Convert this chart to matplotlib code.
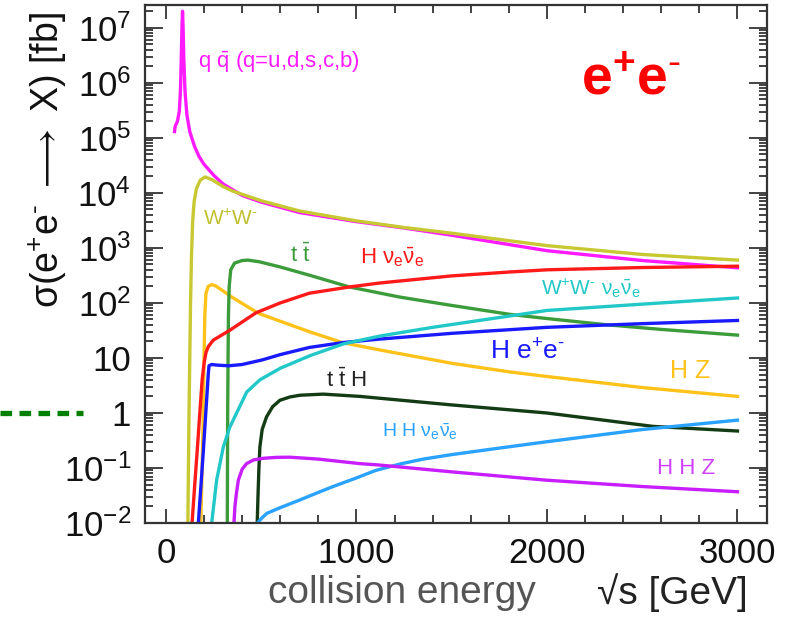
import numpy as np
import matplotlib
matplotlib.use('Agg')
import matplotlib.pyplot as plt
from matplotlib.ticker import MultipleLocator, LogLocator, NullFormatter

plt.rcParams['font.family'] = ['Liberation Sans', 'DejaVu Sans']
plt.rcParams['mathtext.fontset'] = 'custom'
plt.rcParams['mathtext.rm'] = 'Liberation Sans'
plt.rcParams['mathtext.it'] = 'Liberation Sans:italic'
plt.rcParams['mathtext.bf'] = 'Liberation Sans:bold'

# cross sections, sqrt(s) in GeV, sigma in fb
qq_E = [45, 48, 60, 70, 76, 80, 84, 87, 90, 94, 100, 110, 125, 150, 175, 200, 250, 300, 400, 500,
        700, 1000, 1250, 1500, 2000, 2500, 3000]
qq_s = [1.3e5, 1.6e5, 2e5, 3e5, 7e5, 2.5e6, 1e7, 2.0e7, 1e7, 2.5e6, 7e5, 2.6e5, 1.3e5, 7e4,
        4.5e4, 3.3e4, 2.1e4, 1.45e4, 9e3, 6.8e3, 4.4e3, 3.0e3, 2.3e3, 1.7e3, 890, 590, 435]

ww_E = [115, 118, 121, 125, 129, 134, 140, 148, 160, 180, 205, 240, 300, 350, 500, 700, 1000,
        1250, 1500, 2000, 2500, 3000]
ww_s = [0.01, 0.1, 1, 10, 100, 700, 3000, 7000, 1.2e4, 1.7e4, 1.95e4, 1.75e4, 1.3e4, 1.08e4,
        7.2e3, 4.7e3, 3.1e3, 2.35e3, 1.85e3, 1.1e3, 760, 600]

hz_E = [183, 190, 196, 200, 204, 210, 222, 240, 260, 300, 350, 472, 500, 752, 927, 1121, 1500,
        1800, 2000, 2500, 3000]
hz_s = [0.01, 0.1, 1, 10, 60, 150, 200, 215, 205, 165, 125, 69, 62, 30, 19, 14, 8, 5.6, 4.6, 2.9, 2.0]

tt_E = [322, 324, 326, 328, 332, 340, 360, 400, 430, 490, 600, 752, 963, 1226, 1500, 1805, 2000,
        2316, 2600, 3000]
tt_s = [0.01, 1, 10, 60, 200, 400, 530, 590, 600, 560, 450, 320, 195, 128, 90, 62, 52, 40, 33, 26]

hnn_E = [137, 150, 165, 180, 190, 200, 210, 222, 248, 336, 472, 600, 752, 963, 1121, 1500, 1805,
         2000, 2500, 3000]
hnn_s = [0.01, 0.044, 0.23, 1.3, 4, 8, 12.5, 16, 21, 32, 66, 100, 150, 195, 230, 310, 365, 400,
         440, 465]

hee_E = [170, 183, 196, 209, 218, 222, 226, 240, 270, 330, 400, 505, 600, 752, 927, 1121, 1500,
         2000, 2500, 3000]
hee_s = [0.01, 0.044, 0.2, 1.0, 3, 5, 7.2, 7.6, 7.4, 7.2, 7.6, 9.2, 11.5, 15.5, 19, 22, 28, 36,
         42, 48]

wwnn_E = [240, 266, 301, 335, 371, 424, 493, 600, 756, 931, 1123, 1400, 1806, 2000, 2500, 3000]
wwnn_s = [0.01, 0.06, 0.24, 0.55, 1.0, 2.4, 4.0, 6.5, 11, 18, 25, 36, 58, 73, 95, 123]

tth_E = [479, 483, 488, 493, 505, 528, 560, 598, 650, 703, 826, 1018, 1123, 1500, 1998, 2557, 3000]
tth_s = [0.01, 0.03, 0.1, 0.24, 0.5, 0.85, 1.3, 1.7, 1.95, 2.1, 2.2, 2.0, 1.85, 1.4, 1.0, 0.57, 0.47]

hhnn_E = [480, 505, 530, 600, 700, 800, 877, 1000, 1100, 1228, 1350, 1500, 1750, 2000, 2500, 3000]
hhnn_s = [0.01, 0.0125, 0.015, 0.019, 0.026, 0.036, 0.046, 0.066, 0.09, 0.118, 0.145, 0.175,
          0.23, 0.3, 0.5, 0.74]

hhz_E = [357, 362, 370, 380, 400, 423, 460, 511, 580, 651, 800, 1018, 1123, 1500, 1998, 2500, 3000]
hhz_s = [0.01, 0.02, 0.035, 0.06, 0.095, 0.12, 0.14, 0.15, 0.156, 0.157, 0.145, 0.12, 0.113,
         0.085, 0.06, 0.046, 0.037]

x_ticks = [0, 1000, 2000, 3000]
x_tick_labels = ['0', '1000', '2000', '3000']
y_ticks = [1e-2, 1e-1, 1, 10, 1e2, 1e3, 1e4, 1e5, 1e6, 1e7]
y_tick_labels = [r'$\mathregular{10^{-2}}$', r'$\mathregular{10^{-1}}$', '1', '10',
                 r'$\mathregular{10^{2}}$', r'$\mathregular{10^{3}}$', r'$\mathregular{10^{4}}$',
                 r'$\mathregular{10^{5}}$', r'$\mathregular{10^{6}}$', r'$\mathregular{10^{7}}$']
ref_level = 1

curves = [
    (qq_E, qq_s, '#ff1aff'),
    (ww_E, ww_s, '#c8c832'),
    (hz_E, hz_s, '#ffc21a'),
    (tt_E, tt_s, '#3c9c3c'),
    (hnn_E, hnn_s, '#ff1a1a'),
    (hee_E, hee_s, '#1a1aff'),
    (wwnn_E, wwnn_s, '#22c8c8'),
    (tth_E, tth_s, '#143c14'),
    (hhnn_E, hhnn_s, '#2aa2ff'),
    (hhz_E, hhz_s, '#c81eff'),
]

fig = plt.figure(figsize=(7.95, 6.28), dpi=100)
ax = fig.add_axes([145 / 795, 1 - 523 / 628, 622 / 795, 518 / 628])

for E, s, c in curves:
    ax.plot(E, s, color=c, lw=2.4, solid_joinstyle='round')

ax.set_yscale('log')
ax.set_xlim(-110, 3155)
ax.set_ylim(1e-2, 2.6e7)

ax.set_xticks(x_ticks)
ax.set_xticklabels(x_tick_labels)
ax.xaxis.set_minor_locator(MultipleLocator(200))
ax.set_yticks(y_ticks)
ax.set_yticklabels(y_tick_labels)
ax.yaxis.set_minor_locator(LogLocator(base=10, subs=np.arange(2, 10), numticks=30))
ax.yaxis.set_minor_formatter(NullFormatter())

ax.tick_params(which='both', direction='in', top=True, right=True, width=1.2,
               color='#222222', labelcolor='#111111')
ax.tick_params(axis='y', which='major', length=13, labelsize=25, pad=10)
ax.tick_params(axis='x', which='major', length=10, labelsize=25, pad=10)
ax.tick_params(which='minor', length=6)
for sp in ax.spines.values():
    sp.set_color('#333333')
    sp.set_linewidth(1.6)

# short hyphen for the superscript minus, as in the original figure
mn = r'\text{-}'

ax.set_ylabel(r'$\mathregular{\sigma(e^{+}e^{' + mn + r'}\ \longrightarrow\ X)\ [fb]}$',
              fontsize=27, color='#111111')
ax.yaxis.set_label_coords(-0.122, 0.70)

fig.text(268 / 795, 0.056, 'collision energy', fontsize=28, color='#555555',
         ha='left', va='center')
fig.text(748 / 795, 0.056, '\u221as [GeV]', fontsize=28, color='#222222',
         ha='right', va='center')

# dashed marker at 1 fb, left of the frame
ax.axhline(ref_level, xmin=-145 / 622, xmax=(83 - 145) / 622, color='#008000', lw=3.8,
           dashes=(2.2, 1.4), clip_on=False)


def px(x, y):
    return (x - 145) / 622, (523 - y) / 518


labels = [
    (279, 62, r'$\mathregular{q\ \bar{q}}$ (q=u,d,s,c,b)', '#ff1aff', 16),
    (231, 219, r'$\mathregular{W^{+}W^{' + mn + r'}}$', '#c0c030', 15),
    (300, 255, r'$\mathregular{t\ \bar{t}}$', '#3c9c3c', 16),
    (392, 257, r'$\mathregular{H\ \nu_e\bar{\nu}_e}$', '#ff1a1a', 16),
    (591, 288, r'$\mathregular{W^{+}W^{' + mn + r'}\ \nu_e\bar{\nu}_e}$', '#22c8c8', 15),
    (528, 352, r'$\mathregular{H\ e^{+}e^{' + mn + r'}}$', '#1a1aff', 19),
    (690, 371, 'H Z', '#ffc21a', 18),
    (347, 380, r'$\mathregular{t\ \bar{t}\ H}$', '#222222', 16),
    (420, 432, r'$\mathregular{H\ H\ \nu_e\bar{\nu}_e}$', '#2aa2ff', 14),
    (686, 468, 'H H Z', '#d040ff', 16),
]
for x, y, s, c, fs in labels:
    fx, fy = px(x, y)
    ax.text(fx, fy, s, transform=ax.transAxes, color=c, fontsize=fs, ha='center', va='center')

fx, fy = px(631, 80)
ax.text(fx, fy, r'$\mathbf{e^{+}e^{' + mn + r'}}$', transform=ax.transAxes, color='#ff0000',
        fontsize=40, ha='center', va='center')

fig.savefig('out.png', dpi=100)
